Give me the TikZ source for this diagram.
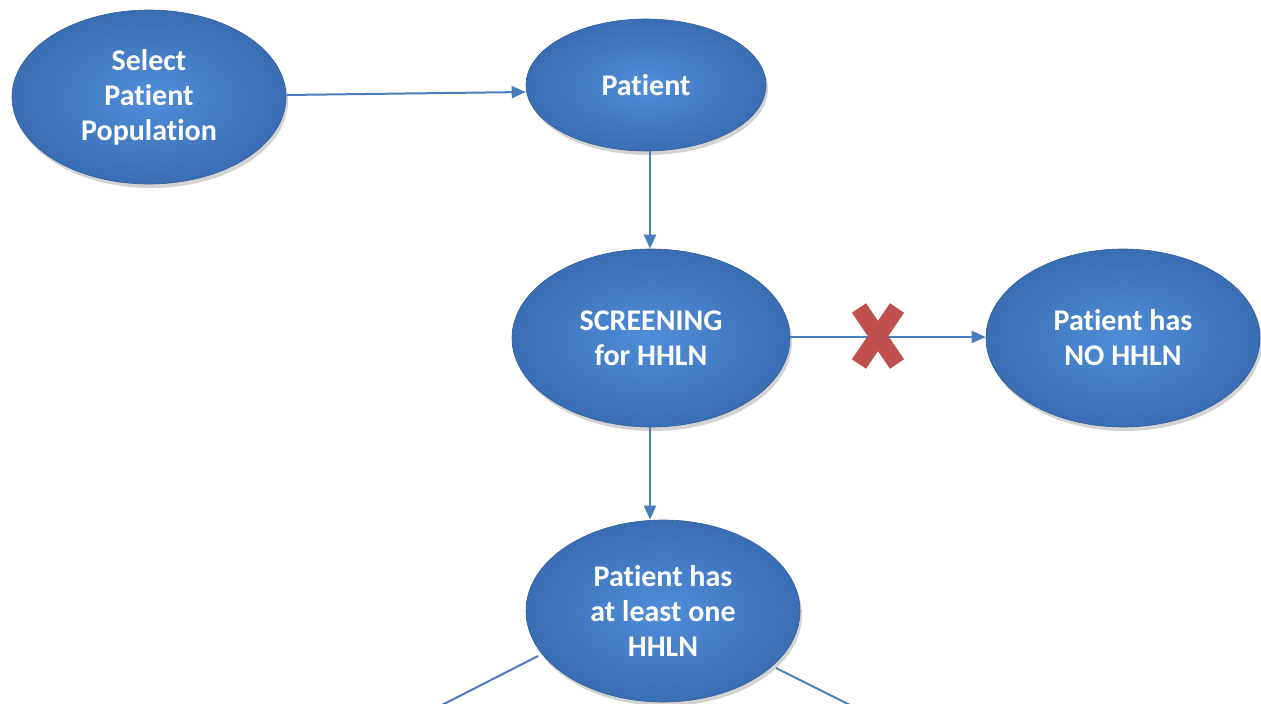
\documentclass[tikz,border=0pt]{standalone}
\usepackage{fontspec}
\setmainfont{Carlito}[Ligatures={NoCommon}]
\usetikzlibrary{shapes.geometric,arrows.meta,shadows}
\newcommand\myti{t\kern0pt i}
\definecolor{nodelight}{HTML}{4F8ED8}
\definecolor{nodedark}{HTML}{3A6EB4}
\definecolor{linkblue}{HTML}{4A7EBB}
\definecolor{crossred}{HTML}{C0504D}
\tikzset{
  oval/.style={ellipse, inner sep=0pt, shading=radial, inner color=nodelight, outer color=nodedark,
    draw=nodedark!85!black, line width=0.6pt,
    drop shadow={opacity=0.35, shadow xshift=2pt, shadow yshift=-4pt},
    text=white, font=\bfseries\fontsize{30}{35}\selectfont, align=center},
  link/.style={draw=linkblue, line width=2pt, -{Triangle[length=14pt,width=12pt]}},
  plainlink/.style={draw=linkblue, line width=2pt},
  crossbar/.style={draw=crossred, line width=17pt, line cap=butt}
}
\begin{document}
\begin{tikzpicture}[x=1pt,y=-1pt]
\useasboundingbox (0,0) rectangle (1261,704);
\node[oval, minimum width=274pt, minimum height=174pt] (sel) at (149,97) {Select\\Pa\myti ent\\Popula\myti on};
\node[oval, minimum width=240pt, minimum height=132pt] (pat) at (646,85) {Pa\myti ent};
\node[oval, minimum width=278pt, minimum height=178pt] (scr) at (651,338) {SCREENING\\for HHLN};
\node[oval, minimum width=274pt, minimum height=178pt] (no) at (1123,338) {Pa\myti ent has\\NO HHLN};
\node[oval, minimum width=274pt, minimum height=182pt] (has) at (663,611) {Pa\myti ent has\\at least one\\HHLN};
\coordinate (leftend) at (440,706);
\coordinate (rightend) at (852,706);
\coordinate (lstart) at (538,656);
\coordinate (rstart) at (776,668);
\draw[link] (sel.east |- 0,95) -- (pat.west |- 0,92);
\draw[link] (pat.south -| 650,0) -- (scr.north -| 650,0);
\draw[link] (scr.east |- 0,337) -- (no.west |- 0,337);
\draw[link] (scr.south -| 650,0) -- (has.north -| 650,0);
\draw[plainlink] (lstart) -- (leftend);
\draw[plainlink] (rstart) -- (rightend);
\draw[crossbar] (859,308) -- (897,364);
\draw[crossbar] (897,308) -- (859,364);
\end{tikzpicture}
\end{document}
